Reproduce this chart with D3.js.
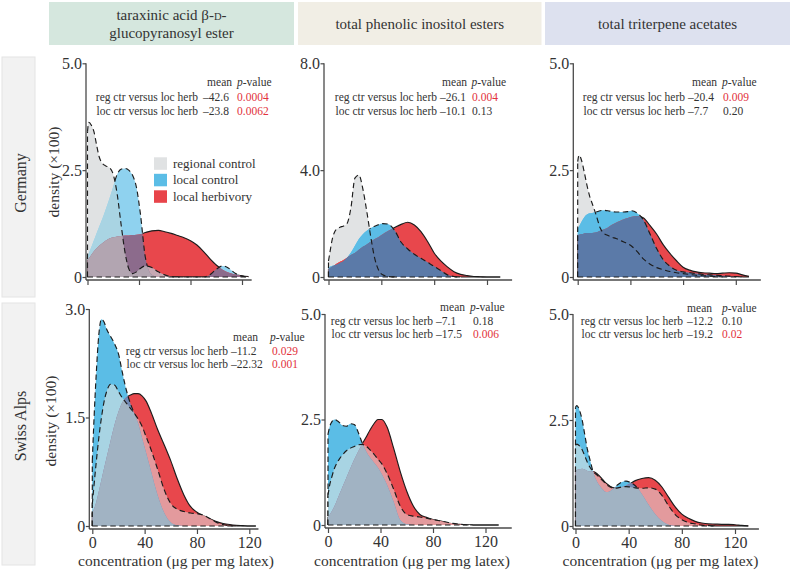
<!DOCTYPE html>
<html><head><meta charset="utf-8">
<script src="https://cdn.jsdelivr.net/npm/d3@7"></script>
<style>
body{margin:0;background:#fff;}
svg{display:block;font-family:"Liberation Serif","Times New Roman",serif;}
</style></head><body>
<svg id="chart" width="791" height="570"></svg>
<script>
// ---------------- DATA ----------------
const xGrid = [0,1,3,5,7,9,11,14,17,20,23,26,29,32,35,38,41,45,50,55,60,65,70,75,80,85,90,95,100,105,110,115,120,125,130];

const columnTitles = ["taraxinic acid β-D-glucopyranosyl ester", "total phenolic inositol esters", "total triterpene acetates"];
const rowTitles = ["Germany", "Swiss Alps"];
const seriesNames = ["regional control", "local control", "local herbivory"];
const statLabels = ["reg ctr versus loc herb", "loc ctr versus loc herb"];
const meanDiffs = [[-42.6, -23.8], [-26.1, -10.1], [-20.4, -7.7], [-11.2, -22.32], [-7.1, -17.5], [-12.2, -19.2]];
const pValues = [["0.0004", "0.0062"], ["0.004", "0.13"], ["0.009", "0.20"], ["0.029", "0.001"], ["0.18", "0.006"], ["0.10", "0.02"]];
const xTicks = [0, 40, 80, 120];
const yTicksSets = [[0, 2.5, 5], [0, 4, 8], [0, 2.5, 5], [0, 1.5, 3], [0, 2.5, 5], [0, 2.5, 5]];
const yMaxes = [5, 8, 5, 3, 5, 5];

// Germany - taraxinic acid ester
const gerTaraxRegional = [3.4,3.62,3.55,3.4,3.1,2.82,2.68,2.6,2.56,2.4,1.95,1.25,0.6,0.2,0.08,0.12,0.2,0.26,0.22,0.12,0.05,0.01,0,null,null,null,null,null,null,null,null,null,null,null,null];
const gerTaraxLocalCtrl = [0.47,0.55,0.7,0.86,1.02,1.17,1.32,1.57,1.83,2.12,2.4,2.52,2.54,2.5,2.38,2.1,1.5,0.45,0.05,0,0,0,0,0,0,0,0,0.05,0.18,0.26,0.2,0.08,0.02,0,null];
const gerTaraxLocalHerb = [0.4,0.43,0.52,0.6,0.67,0.73,0.78,0.85,0.9,0.93,0.95,0.96,0.97,0.97,0.98,0.99,1.0,1.04,1.08,1.09,1.06,1.02,0.97,0.92,0.85,0.75,0.6,0.43,0.28,0.17,0.1,0.06,0.03,0.01,null];
// Germany - phenolic inositol esters
const gerPhenRegional = [0.6,0.9,1.45,1.72,1.82,1.87,1.9,2.0,2.6,3.7,3.82,3.3,2.45,1.5,0.7,0.25,0.08,0.02,0,null,null,null,null,null,null,null,null,null,null,null,null,null,null,null,null];
const gerPhenLocalCtrl = [0.35,0.38,0.42,0.45,0.48,0.53,0.58,0.72,0.92,1.17,1.42,1.6,1.73,1.83,1.9,1.96,2.0,1.98,1.75,1.3,1.05,0.85,0.7,0.55,0.4,0.24,0.08,0.02,0,null,null,null,null,null,null];
const gerPhenLocalHerb = [0.3,0.33,0.39,0.46,0.52,0.58,0.63,0.72,0.82,0.9,1.02,1.13,1.22,1.32,1.42,1.5,1.6,1.72,1.85,1.97,2.05,1.95,1.7,1.33,0.9,0.6,0.38,0.2,0.1,0.05,0.02,0.01,0,0,0];
// Germany - triterpene acetates
const gerTritRegional = [2.7,2.85,2.72,2.45,2.15,1.9,1.72,1.45,1.15,1.02,0.97,0.93,0.9,0.86,0.82,0.78,0.72,0.6,0.42,0.3,0.22,0.17,0.13,0.1,0.08,0.06,0.04,0.03,0.02,0.01,0,null,null,null,null];
const gerTritLocalCtrl = [1.12,1.18,1.3,1.4,1.46,1.49,1.5,1.52,1.55,1.56,1.55,1.53,1.52,1.52,1.52,1.53,1.55,1.5,1.33,1.0,0.66,0.4,0.25,0.16,0.12,0.1,0.08,0.06,0.05,0.04,0.03,0.02,0.01,0,null];
const gerTritLocalHerb = [0.98,0.99,1.0,1.02,1.03,1.03,1.03,1.04,1.08,1.12,1.16,1.22,1.27,1.31,1.35,1.38,1.41,1.43,1.38,1.2,1.0,0.75,0.55,0.38,0.23,0.16,0.12,0.1,0.09,0.08,0.09,0.1,0.09,0.05,0.015];
// Swiss Alps - taraxinic acid ester
const swiTaraxRegional = [0.3,0.5,0.88,1.22,1.5,1.72,1.86,1.96,1.95,1.86,1.77,1.7,1.63,1.56,1.48,1.38,1.24,1.05,0.78,0.5,0.31,0.23,0.2,0.18,0.17,0.15,0.1,0.05,0.02,0.005,0,null,null,null,null];
const swiTaraxLocalCtrl = [0.9,1.35,2.1,2.65,2.86,2.82,2.72,2.62,2.52,2.38,2.12,1.88,1.7,1.56,1.42,1.22,1.02,0.75,0.42,0.18,0.05,0.01,0,null,null,null,null,null,null,null,null,null,null,null,null];
const swiTaraxLocalHerb = [0.18,0.22,0.33,0.48,0.64,0.8,0.95,1.18,1.4,1.58,1.71,1.78,1.81,1.83,1.83,1.8,1.73,1.57,1.33,1.12,0.9,0.65,0.43,0.27,0.19,0.14,0.1,0.06,0.035,0.02,0.01,0.005,0,0,null];
// Swiss Alps - phenolic inositol esters
const swiPhenRegional = [0.7,0.9,1.15,1.35,1.48,1.58,1.66,1.76,1.82,1.86,1.9,1.91,1.87,1.78,1.68,1.56,1.45,1.22,0.85,0.45,0.25,0.21,0.19,0.16,0.13,0.1,0.07,0.04,0.02,0.005,0,null,null,null,null];
const swiPhenLocalCtrl = [2.15,2.3,2.45,2.5,2.47,2.42,2.36,2.34,2.4,2.38,2.2,1.95,1.75,1.6,1.48,1.36,1.2,0.95,0.55,0.12,0.02,0,null,null,null,null,null,null,null,null,null,null,null,null,null];
const swiPhenLocalHerb = [0.19,0.23,0.33,0.45,0.6,0.75,0.9,1.12,1.34,1.55,1.74,1.92,2.08,2.25,2.4,2.5,2.5,2.32,1.82,1.27,0.8,0.45,0.25,0.18,0.13,0.1,0.06,0.03,0.015,0.005,0,0,0,0,0];
// Swiss Alps - triterpene acetates
const swiTritRegional = [1.9,1.93,1.89,1.8,1.65,1.5,1.38,1.26,1.18,1.08,0.99,0.92,0.89,0.9,0.92,0.93,0.92,0.9,0.89,0.9,0.87,0.72,0.48,0.27,0.15,0.08,0.05,0.02,0.01,0,null,null,null,null,null];
const swiTritLocalCtrl = [2.8,2.84,2.73,2.5,2.15,1.8,1.55,1.2,1.0,0.88,0.8,0.82,0.9,0.98,1.04,1.06,1.03,0.95,0.75,0.5,0.28,0.12,0.03,0,null,null,null,null,null,null,null,null,null,null,null];
const swiTritLocalHerb = [1.3,1.32,1.34,1.35,1.33,1.3,1.29,1.28,1.21,1.11,1.01,0.94,0.9,0.9,0.92,0.95,1.0,1.07,1.12,1.14,1.08,0.92,0.68,0.45,0.28,0.18,0.11,0.07,0.05,0.045,0.04,0.04,0.03,0.015,0.003];

// ---------------- STYLE / LAYOUT ----------------
const W = 791, H = 570;
const legendColors = ["#e0e2e3", "#5bbde6", "#e8444a"];
const palettes = {
  G1:  {R:"#e0e2e3", L:"#8fd2ef", H:"#e8474c", RL:"#a9d4e3", RH:"#c6a8b3", LH:"#8c6b8c", RLH:"#b2a5b1"},
  G23: {R:"#e1e3e4", L:"#5bbde6", H:"#e8474c", RL:"#5bbde6", RH:"#e8474c", LH:"#5b7aa8", RLH:"#5b7aa8"},
  S:   {R:"#dfe1e3", L:"#5bbde6", H:"#e8474c", RL:"#a8d4e3", RH:"#e39a9d", LH:"#7189b5", RLH:"#a1b3c3"}
};
const panels = [
  {row:0,col:0,R:gerTaraxRegional,L:gerTaraxLocalCtrl,H:gerTaraxLocalHerb,x0:87.5,x120:242,yBot:277,yTop:63.3,xEnd:127.5,pal:"G1",axOff:1.5,
   st:{labelEnd:198,meanX:203,pX:237,meanHdr:232,pHdr:237,y:86,dy:14.5}},
  {row:0,col:1,R:gerPhenRegional,L:gerPhenLocalCtrl,H:gerPhenLocalHerb,x0:328.5,x120:487,yBot:277,yTop:63.3,xEnd:139,pal:"G23",axOff:4.5,
   st:{labelEnd:437,meanX:440,pX:472,meanHdr:467,pHdr:471.5,y:86,dy:14.5}},
  {row:0,col:2,R:gerTritRegional,L:gerTritLocalCtrl,H:gerTritLocalHerb,x0:577.7,x120:735.8,yBot:277,yTop:63.3,xEnd:139,pal:"G23",axOff:4.4,
   st:{labelEnd:685,meanX:688,pX:723,meanHdr:717,pHdr:722,y:86,dy:14.5}},
  {row:1,col:0,R:swiTaraxRegional,L:swiTaraxLocalCtrl,H:swiTaraxLocalHerb,x0:92.3,x120:249.3,yBot:526,yTop:309,xEnd:127,pal:"S",axOff:3,
   st:{labelEnd:228,meanX:231,pX:272,meanHdr:258,pHdr:270,y:341,dy:13.5}},
  {row:1,col:1,R:swiPhenRegional,L:swiPhenLocalCtrl,H:swiPhenLocalHerb,x0:328,x120:485.5,yBot:525,yTop:314,xEnd:140,pal:"S",axOff:3,
   st:{labelEnd:433,meanX:436,pX:473,meanHdr:465,pHdr:470,y:311,dy:13.5}},
  {row:1,col:2,R:swiTritRegional,L:swiTritLocalCtrl,H:swiTritLocalHerb,x0:575.5,x120:735,yBot:526,yTop:314,xEnd:138,pal:"S",axOff:2.5,
   st:{labelEnd:683,meanX:687,pX:722,meanHdr:712,pHdr:722,y:312,dy:13}}
];
const colBoxes = [{x0:49,x1:294,fill:"#d5e7de"},{x0:298,x1:541.5,fill:"#f1eee5"},{x0:545,x1:790,fill:"#dde1ef"}];
const rowBoxes = [{y0:57,y1:297,cy:183},{y0:303,y1:565,cy:426}];
const textCol = "#333", redText = "#e2323c", axisCol = "#4a4a4a";

// ---------------- DRAW ----------------
const svg = d3.select("#chart");
svg.append("rect").attr("width", W).attr("height", H).attr("fill", "#fff");
const defs = svg.append("defs");

colBoxes.forEach((b, i) => {
  svg.append("rect").attr("x", b.x0).attr("y", 2).attr("width", b.x1 - b.x0).attr("height", 43).attr("fill", b.fill);
  const cx = (b.x0 + b.x1) / 2;
  if (i === 0) {
    const t1 = svg.append("text").attr("x", cx).attr("y", 19.5).attr("text-anchor", "middle")
      .attr("font-size", 15).attr("fill", textCol);
    t1.append("tspan").text("taraxinic acid β-");
    t1.append("tspan").attr("font-size", 10.5).text("D");
    t1.append("tspan").text("-");
    svg.append("text").attr("x", cx).attr("y", 38).attr("text-anchor", "middle")
      .attr("font-size", 15).attr("fill", textCol).text("glucopyranosyl ester");
  } else {
    svg.append("text").attr("x", cx).attr("y", 28.5).attr("text-anchor", "middle")
      .attr("font-size", 15).attr("fill", textCol).text(columnTitles[i]);
  }
});

rowBoxes.forEach((b, i) => {
  svg.append("rect").attr("x", 2).attr("y", b.y0).attr("width", 33).attr("height", b.y1 - b.y0)
    .attr("fill", "#f2f2f2").attr("stroke", "#e4e4e4").attr("stroke-width", 1);
  svg.append("text").attr("transform", `translate(20,${b.cy}) rotate(-90)`).attr("text-anchor", "middle")
    .attr("dominant-baseline", "central").attr("font-size", 16).attr("fill", textCol).text(rowTitles[i]);
});

const fmtTick = d => d === 0 ? "0" : d3.format(".1f")(d);

panels.forEach((p, i) => {
  const x = d3.scaleLinear().domain([0, 120]).range([p.x0, p.x120]);
  const y = d3.scaleLinear().domain([0, yMaxes[i]]).range([p.yBot, p.yTop]);
  const pal = palettes[p.pal];
  const pts = arr => xGrid.map((xv, k) => ({x: xv, v: arr[k]}));
  const area = d3.area().defined(d => d.v != null).x(d => x(d.x)).y0(y(0)).y1(d => y(d.v)).curve(d3.curveMonotoneX);
  const maskArea = d3.area().defined(d => d.v != null).x(d => x(d.x)).y0(y(0) + 3).y1(d => y(d.v)).curve(d3.curveMonotoneX);
  const line = d3.line().defined(d => d.v != null).x(d => x(d.x)).y(d => y(d.v)).curve(d3.curveMonotoneX);
  const id = k => `p${i}${k}`;

  ["R", "L", "H"].forEach(k => {
    defs.append("clipPath").attr("id", "clip-" + id(k)).append("path").attr("d", area(pts(p[k])));
  });
  const mkMask = (name, covers) => {
    const m = defs.append("mask").attr("id", "mask-" + id(name)).attr("maskUnits", "userSpaceOnUse")
      .attr("x", 0).attr("y", 0).attr("width", W).attr("height", H);
    m.append("rect").attr("width", W).attr("height", H).attr("fill", "#fff");
    covers.forEach(k => m.append("path").attr("d", maskArea(pts(p[k]))).attr("fill", "#000"));
  };
  mkMask("H", ["L", "R"]);
  mkMask("L", ["R"]);

  const g = svg.append("g");
  const fill = (k, col, parent) => parent.append("path").attr("d", area(pts(p[k]))).attr("fill", col);
  fill("R", pal.R, g); fill("L", pal.L, g); fill("H", pal.H, g);
  fill("L", pal.RL, g.append("g").attr("clip-path", `url(#clip-${id("R")})`));
  fill("H", pal.RH, g.append("g").attr("clip-path", `url(#clip-${id("R")})`));
  fill("H", pal.LH, g.append("g").attr("clip-path", `url(#clip-${id("L")})`));
  fill("H", pal.RLH, g.append("g").attr("clip-path", `url(#clip-${id("R")})`).append("g").attr("clip-path", `url(#clip-${id("L")})`));

  const outline = (k, dashed, masked) => {
    const arr = p[k];
    const og = g.append("g").attr("fill", "none").attr("stroke", "#1c1c1c").attr("stroke-width", 1.15);
    if (dashed) og.attr("stroke-dasharray", "5.5,3.5");
    if (masked) og.attr("mask", `url(#mask-${id(k)})`);
    const idx = arr.map((v, j) => v != null ? j : -1).filter(j => j >= 0);
    const f = idx[0], l = idx[idx.length - 1];
    og.append("path").attr("d", line(pts(arr)));
    og.append("path").attr("d", d3.line()([[x(xGrid[f]), y(0)], [x(xGrid[f]), y(arr[f])]]));
    og.append("path").attr("d", d3.line()([[x(xGrid[f]), y(0)], [x(xGrid[l]), y(0)]]));
  };
  outline("H", false, true);
  outline("L", true, true);
  outline("R", true, false);

  const axX = x(0) - p.axOff, axY = y(0) + 3;
  const ya = svg.append("g").attr("transform", `translate(${axX},0)`)
    .call(d3.axisLeft(y).tickValues(yTicksSets[i]).tickFormat(fmtTick).tickSize(3.5).tickPadding(0.5).tickSizeOuter(0));
  ya.select(".domain").remove();
  ya.attr("font-family", null).attr("font-size", 16);
  ya.selectAll("text").attr("fill", textCol);
  ya.selectAll("line").attr("stroke", axisCol).attr("stroke-width", 1.2);
  svg.append("line").attr("x1", axX).attr("x2", axX).attr("y1", y(yMaxes[i])).attr("y2", axY)
    .attr("stroke", axisCol).attr("stroke-width", 1.3);

  const xa = svg.append("g").attr("transform", `translate(0,${axY})`)
    .call(d3.axisBottom(x).tickValues(xTicks).tickSize(5).tickPadding(3).tickSizeOuter(0)
      .tickFormat(p.row === 1 ? d3.format("d") : () => ""));
  xa.select(".domain").remove();
  xa.attr("font-family", null).attr("font-size", 16);
  xa.selectAll("text").attr("fill", textCol);
  xa.selectAll("line").attr("stroke", axisCol).attr("stroke-width", 1.2);
  svg.append("line").attr("x1", axX).attr("x2", x(p.xEnd)).attr("y1", axY).attr("y2", axY)
    .attr("stroke", axisCol).attr("stroke-width", 1.3);

  if (p.row === 1) {
    svg.append("text").attr("x", x(64)).attr("y", 565.5).attr("text-anchor", "middle")
      .attr("font-size", 15.5).attr("fill", textCol).text("concentration (μg per mg latex)");
  }
  if (p.col === 0) {
    const cy = p.row === 0 ? 172 : 421, cx = p.row === 0 ? 53 : 50;
    svg.append("text").attr("transform", `translate(${cx},${cy}) rotate(-90)`).attr("text-anchor", "middle")
      .attr("dominant-baseline", "central").attr("font-size", 15.5).attr("fill", textCol).text("density (×100)");
  }

  const st = p.st;
  const tg = svg.append("g").attr("font-size", 11.5).attr("fill", textCol);
  tg.append("text").attr("x", st.meanHdr).attr("y", st.y).attr("text-anchor", "end").text("mean");
  const pv = tg.append("text").attr("x", st.pHdr).attr("y", st.y);
  pv.append("tspan").attr("font-style", "italic").text("p");
  pv.append("tspan").text("-value");
  statLabels.forEach((lab, r) => {
    const yy = st.y + (r + 1) * st.dy;
    tg.append("text").attr("x", st.labelEnd).attr("y", yy).attr("text-anchor", "end").text(lab);
    tg.append("text").attr("x", st.meanX).attr("y", yy).text("–" + Math.abs(meanDiffs[i][r]));
    tg.append("text").attr("x", st.pX).attr("y", yy)
      .attr("fill", parseFloat(pValues[i][r]) < 0.05 ? redText : textCol).text(pValues[i][r]);
  });
});

const lg = svg.append("g");
seriesNames.forEach((s, k) => {
  const yy = 157.3 + k * 16.5;
  lg.append("rect").attr("x", 154).attr("y", yy).attr("width", 13).attr("height", 12.5).attr("fill", legendColors[k]);
  lg.append("text").attr("x", 173).attr("y", yy + 10.5).attr("font-size", 13).attr("fill", textCol).text(s);
});
</script>
</body></html>
